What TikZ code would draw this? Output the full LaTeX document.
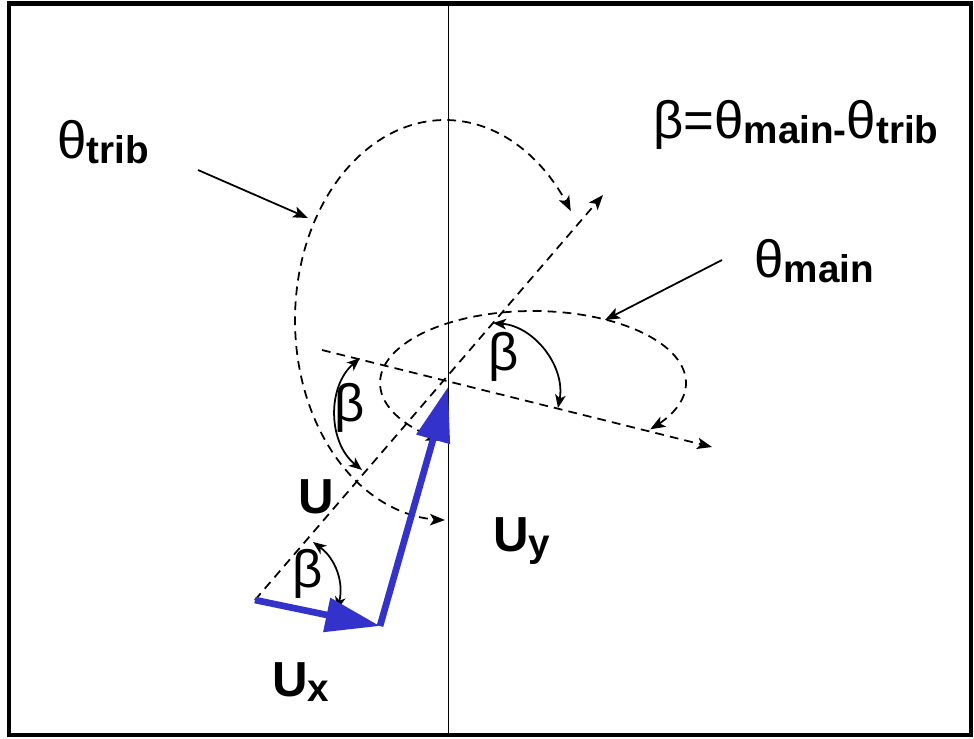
\documentclass[tikz,border=0pt]{standalone}
\usepackage{fontspec}
\setmainfont{Liberation Sans}
\newfontfamily\greekfont{Liberation Sans}
\definecolor{vecblue}{RGB}{51,51,204}
\usetikzlibrary{arrows.meta}
\newcommand{\gr}[1]{{\fontsize{30}{32}\selectfont\mdseries\greekfont #1}}
\newcommand{\lowsub}[1]{\raisebox{-3pt}{\fontsize{22}{23}\selectfont\bfseries #1}}

\begin{document}
\begin{tikzpicture}[x=0.02cm, y=-0.02cm,
    frame/.style={line width=2.3pt},
    guide/.style={line width=1pt, dash pattern=on 5pt off 3.5pt},
    onehead/.style={-{Stealth[length=8.5pt,width=6.5pt,inset=2pt]}},
    twohead/.style={{Stealth[length=8.5pt,width=6.5pt,inset=2pt]}-{Stealth[length=8.5pt,width=6.5pt,inset=2pt]}},
    leader/.style={line width=1pt, -{Stealth[length=8.5pt,width=6.5pt,inset=2pt]}},
    betaarc/.style={line width=1pt, {Stealth[length=7.5pt,width=6pt,inset=2pt]}-{Stealth[length=7.5pt,width=6pt,inset=2pt]}},
    vec/.style={draw=vecblue, line width=3.8pt, -{Triangle[length=31pt,width=19pt]}},
    lbl/.style={inner sep=0pt, font=\fontsize{28}{30}\selectfont\bfseries}]
  \useasboundingbox (0,0) rectangle (974,738);
  \draw[frame] (9,3.5) rectangle (971,735);

  \coordinate (top) at (448.5,3.5);
  \coordinate (bot) at (448.5,735);
  \coordinate (ustart) at (255,600);
  \coordinate (uend) at (603,195);
  \coordinate (mstart) at (322,350);
  \coordinate (mend) at (712,447);
  \coordinate (corner) at (380,626);
  \coordinate (utip) at (448,387);

  \draw[line width=1pt] (top) -- (bot);
  \draw[guide, onehead] (ustart) -- (uend);
  \draw[guide, onehead] (mstart) -- (mend);
  \draw[guide, twohead] plot[domain=90:327, samples=80, smooth] ({445+150*cos(\x)}, {320+200*sin(\x)});
  \draw[guide, twohead] plot[domain=127:400, samples=80, smooth] ({533+153*cos(\x)}, {383+72*sin(\x)});

  \coordinate (bl1) at (360,358);
  \coordinate (bl2) at (362,470);
  \coordinate (br1) at (493,323);
  \coordinate (br2) at (558,408);
  \coordinate (bb1) at (313,542);
  \coordinate (bb2) at (337,610);
  \draw[betaarc] (bl1) to[bend right=50] (bl2);
  \draw[betaarc] (br1) to[bend left=48] (br2);
  \draw[betaarc] (bb1) to[bend left=34] (bb2);

  \draw[vec] (ustart) -- (corner);
  \draw[vec] (corner) -- (utip);

  \node[lbl, anchor=base west] (trib) at (57,158) {\gr{θ}\lowsub{trib}};
  \node[lbl, anchor=base west] (main) at (754,277) {\gr{θ}\lowsub{main}};
  \node[lbl, anchor=base west] (rule) at (653,138) {\gr{β=θ}\lowsub{main-}\gr{θ}\lowsub{trib}};
  \node[lbl, anchor=base west] (u) at (298,513) {U};
  \node[lbl, anchor=base west] (uy) at (493,551) {U\lowsub{y}};
  \node[lbl, anchor=base west] (ux) at (272,696) {U\lowsub{x}};
  \node[lbl] (betal) at (350,408) {\gr{β}};
  \node[lbl] (betar) at (504,357) {\gr{β}};
  \node[lbl] (betab) at (308,574) {\gr{β}};

  \coordinate (tribfrom) at (198,170);
  \coordinate (tribto) at (308,218);
  \coordinate (mainfrom) at (722,260);
  \coordinate (mainto) at (605,320);
  \draw[leader] (tribfrom) -- (tribto);
  \draw[leader] (mainfrom) -- (mainto);
\end{tikzpicture}
\end{document}
